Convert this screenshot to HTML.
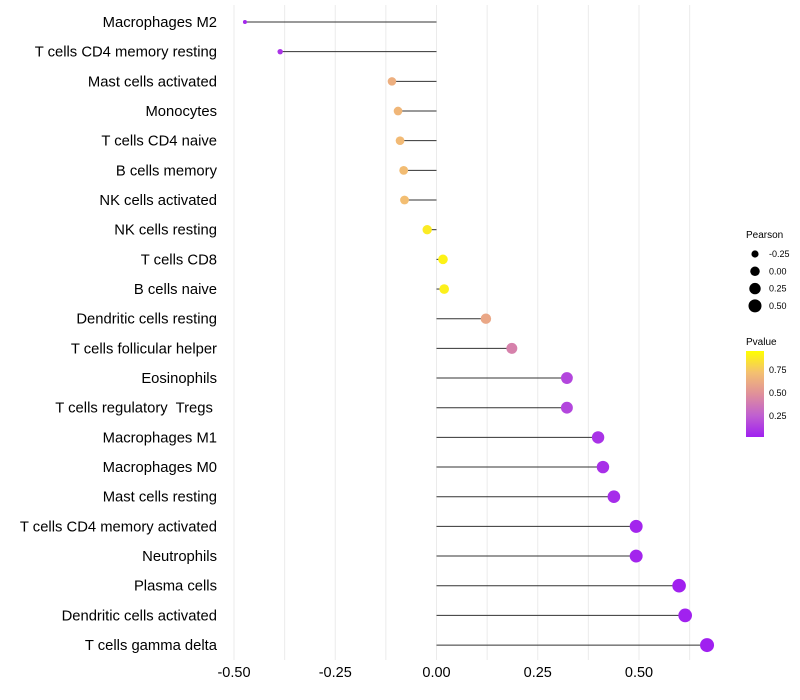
<!DOCTYPE html>
<html><head><meta charset="utf-8"><style>
body{margin:0;background:#fff;}
svg{display:block;font-family:"Liberation Sans",sans-serif;}
text{white-space:pre;}
</style></head><body>
<svg id="chart" width="800" height="700">
<defs><linearGradient id="pg" x1="0" y1="1" x2="0" y2="0">
<stop offset="0" stop-color="#A020F0"/><stop offset="0.25" stop-color="#C060D0"/><stop offset="0.5" stop-color="#E0909A"/><stop offset="0.75" stop-color="#F4C070"/><stop offset="1" stop-color="#FFFF00"/></linearGradient></defs>
<g id="grid"></g><g id="marks"></g><g id="labels"></g>
<g font-size="9">
<text x="746" y="238" font-size="10">Pearson</text>
<g id="sizeLegend"></g>
<text x="746" y="345" font-size="10">Pvalue</text>
<rect x="746" y="351" width="18" height="86" fill="url(#pg)"/>
<text x="769" y="373">0.75</text>
<text x="769" y="396">0.50</text>
<text x="769" y="419">0.25</text>
</g>
</svg>
<script>
const categories=["Macrophages M2","T cells CD4 memory resting","Mast cells activated","Monocytes","T cells CD4 naive","B cells memory","NK cells activated","NK cells resting","T cells CD8","B cells naive","Dendritic cells resting","T cells follicular helper","Eosinophils","T cells regulatory  Tregs ","Macrophages M1","Macrophages M0","Mast cells resting","T cells CD4 memory activated","Neutrophils","Plasma cells","Dendritic cells activated","T cells gamma delta"];
const pearson=[-0.473,-0.386,-0.11,-0.095,-0.09,-0.081,-0.079,-0.023,0.016,0.019,0.122,0.186,0.322,0.322,0.399,0.411,0.438,0.493,0.493,0.599,0.614,0.668];
const pvalues=[0.03,0.08,0.66,0.70,0.72,0.73,0.74,0.92,0.95,0.94,0.62,0.42,0.15,0.15,0.07,0.06,0.05,0.02,0.02,0.005,0.004,0.001];
const xTicks=[-0.5,-0.25,0,0.25,0.5];
const xTickLabels=["-0.50","-0.25","0.00","0.25","0.50"];
const sizeBreaks=[-0.25,0,0.25,0.5];
const sizeLabels=["-0.25","0.00","0.25","0.50"];
const NS="http://www.w3.org/2000/svg";
const x=v=>436.5+v*405;
const y=i=>22+i*29.67;
const r=v=>Math.sqrt(Math.max(1,22.6+39.4*v));
const stops=[[0,[160,32,240]],[0.25,[192,96,208]],[0.5,[224,144,154]],[0.75,[244,192,112]],[1,[255,255,0]]];
function col(p){for(let i=1;i<stops.length;i++){if(p<=stops[i][0]){const a=stops[i-1],b=stops[i],t=(p-a[0])/(b[0]-a[0]);return "rgb("+a[1].map((c,k)=>Math.round(c+(b[1][k]-c)*t)).join(",")+")";}}return "rgb(255,255,0)";}
function mk(tag,attrs,parent){const e=document.createElementNS(NS,tag);for(const k in attrs)e.setAttribute(k,attrs[k]);parent.appendChild(e);return e;}
const grid=document.getElementById('grid'),marks=document.getElementById('marks'),labels=document.getElementById('labels');
for(let v=-0.5;v<=0.7;v+=0.125){const l=mk('line',{x1:x(v),x2:x(v),y1:5,y2:660,stroke:'#ebebeb','stroke-width':1},grid);

}
xTicks.forEach((v,i)=>{const t=mk('text',{x:x(v),y:677,'text-anchor':'middle','font-size':14.5,fill:'#000'},labels);t.textContent=xTickLabels[i];

});
categories.forEach((c,i)=>{
const t=mk('text',{x:217,y:y(i)+5,'text-anchor':'end','font-size':14.8,fill:'#000'},labels);t.textContent=c;


const ln=mk('line',{x1:x(0),x2:x(pearson[i]),y1:y(i),y2:y(i),stroke:'#333','stroke-width':1},marks);


const d=mk('circle',{cx:x(pearson[i]),cy:y(i),r:r(pearson[i]),fill:col(pvalues[i])},marks);


});
const sl=document.getElementById('sizeLegend');
sizeBreaks.forEach((v,i)=>{const cy=254+i*17.3;
const c=mk('circle',{cx:755,cy:cy,r:r(v),fill:'#000'},sl);


const t=mk('text',{x:769,y:cy+3},sl);t.textContent=sizeLabels[i];

});
</script>
</body></html>
